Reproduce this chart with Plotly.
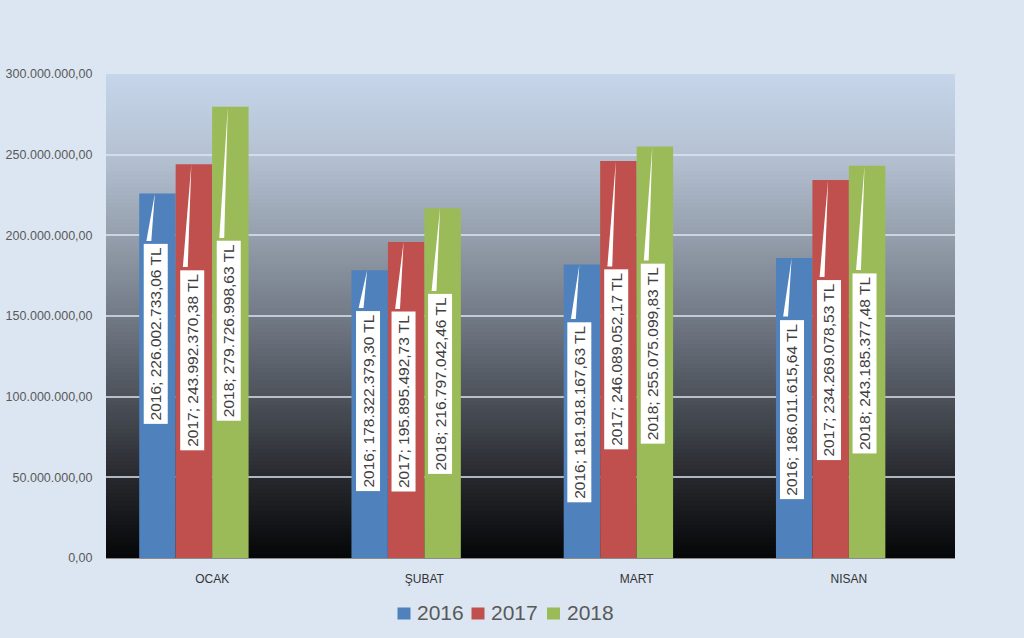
import plotly.graph_objects as go

months = ["OCAK", "ŞUBAT", "MART", "NISAN"]
years = ["2016", "2017", "2018"]
values_2016 = [226002733.06, 178322379.30, 181918167.63, 186011615.64]
values_2017 = [243992370.38, 195895492.73, 246089052.17, 234269078.53]
values_2018 = [279726998.63, 216797042.46, 255075099.83, 243185377.48]
label_text_2016 = ["226.002.733,06", "178.322.379,30", "181.918.167,63", "186.011.615,64"]
label_text_2017 = ["243.992.370,38", "195.895.492,73", "246.089.052,17", "234.269.078,53"]
label_text_2018 = ["279.726.998,63", "216.797.042,46", "255.075.099,83", "243.185.377,48"]
y_ticks = [0, 50e6, 100e6, 150e6, 200e6, 250e6, 300e6]

# layout: label box centres (value units)
label_center_2016 = [138.8e6, 97.3e6, 90.5e6, 92.0e6]
label_center_2017 = [122.7e6, 96.7e6, 123.0e6, 116.5e6]
label_center_2018 = [140.7e6, 107.9e6, 126.8e6, 120.9e6]

colors = ["#4f81bd", "#c0504d", "#9bbb59"]
series = [values_2016, values_2017, values_2018]
texts = [label_text_2016, label_text_2017, label_text_2018]
centers = [label_center_2016, label_center_2017, label_center_2018]

W, H = 1024, 638
ML, MR, MT, MB = 106, 69, 74, 80
PW, PH = W - ML - MR, H - MT - MB
def px_x(px):
    return (px - ML) / PW
def px_y(py):
    return (H - MB - py) / PH

x_pos = list(range(len(months)))
bw = 0.1718
bar_offsets = [-2 * bw, -bw, 0.0]  # left edge of each bar relative to category centre

fig = go.Figure()
for yr, vals, col, off in zip(years, series, colors, bar_offsets):
    fig.add_trace(go.Bar(x=x_pos, y=vals, name=yr, width=bw, offset=off,
                         marker=dict(color=col, line=dict(width=0))))

# gradient plot background
stops = [(0.0, (5, 6, 7)), (1/6, (39, 41, 46)), (2/6, (77, 82, 91)), (3/6, (114, 122, 134)),
         (4/6, (149, 159, 173)), (5/6, (181, 194, 211)), (1.0, (198, 213, 234))]
def interp(t):
    for (t0, c0), (t1, c1) in zip(stops[:-1], stops[1:]):
        if t0 <= t <= t1:
            f = (t - t0) / (t1 - t0)
            return "rgb(%d,%d,%d)" % tuple(round(a + (b - a) * f) for a, b in zip(c0, c1))
    return "rgb(%d,%d,%d)" % stops[-1][1]

shapes = []
n = 120
for i in range(n):
    y0 = i / n
    y1 = (i + 1) / n + 0.002
    shapes.append(dict(type="rect", xref="x domain", yref="y domain", x0=0, x1=1, y0=y0, y1=min(y1, 1),
                       fillcolor=interp((i + 0.5) / n), line=dict(width=0), layer="below"))

# callout pointers and labels
half_box = 93 / PH * 300e6
annotations = []
for k in range(3):
    for i in range(len(months)):
        xc = x_pos[i] + bar_offsets[k] + bw / 2 - 0.01
        top = series[k][i]
        base_y = centers[k][i] + half_box
        path = "M %f,%f L %f,%f L %f,%f Z" % (xc - 0.042, base_y, xc - 0.019, base_y, xc - 0.002, top)
        shapes.append(dict(type="path", xref="x", yref="y", path=path,
                           fillcolor="white", line=dict(width=0), layer="above"))
        annotations.append(dict(x=xc, y=centers[k][i], xref="x", yref="y",
                                text="%s; %s TL" % (years[k], texts[k][i]),
                                showarrow=False, textangle=-90, bgcolor="white",
                                borderpad=3, font=dict(family="Liberation Sans", size=15.5, color="#404040")))

# legend (compact, Excel-like)
legend_square_px = [397.5, 471.5, 547.0]
legend_text_px = [416.0, 490.0, 565.5]
for k in range(3):
    shapes.append(dict(type="rect", xref="paper", yref="paper",
                       x0=px_x(legend_square_px[k]), x1=px_x(legend_square_px[k] + 13),
                       y0=px_y(619.5), y1=px_y(607.5),
                       fillcolor=colors[k], line=dict(width=0), layer="above"))
    annotations.append(dict(x=px_x(legend_text_px[k]), y=px_y(612.5), xref="paper", yref="paper",
                            xanchor="left", yanchor="middle", showarrow=False, borderpad=0,
                            text=years[k], font=dict(family="Liberation Sans", size=21, color="#595959")))

fig.update_layout(
    width=W, height=H,
    paper_bgcolor="#dce6f2", plot_bgcolor="rgba(0,0,0,0)",
    margin=dict(l=ML, r=MR, t=MT, b=MB, autoexpand=False),
    barmode="overlay",
    separators=",.",
    shapes=shapes, annotations=annotations,
    showlegend=False,
    xaxis=dict(range=[-0.5, 3.5], tickvals=x_pos, ticktext=months, showgrid=False,
               ticks="outside", ticklen=10, tickcolor="rgba(0,0,0,0)", automargin=False,
               showline=True, linecolor="#8c8c8c", linewidth=1,
               tickfont=dict(family="Liberation Sans", size=12, color="#333333")),
    yaxis=dict(range=[0, 300e6], tickvals=y_ticks, tickformat=",.2f", showgrid=True,
               gridcolor="rgba(222,230,240,0.75)", gridwidth=1.5, zeroline=False,
               ticks="outside", ticklen=10, tickcolor="rgba(0,0,0,0)", automargin=False,
               tickfont=dict(family="Liberation Sans", size=12.5, color="#595959")),
    font=dict(family="Liberation Sans"),
)

fig.write_html("out.html", config={"displayModeBar": False},
               post_script="document.body.style.margin='0';document.body.style.overflow='hidden';")
